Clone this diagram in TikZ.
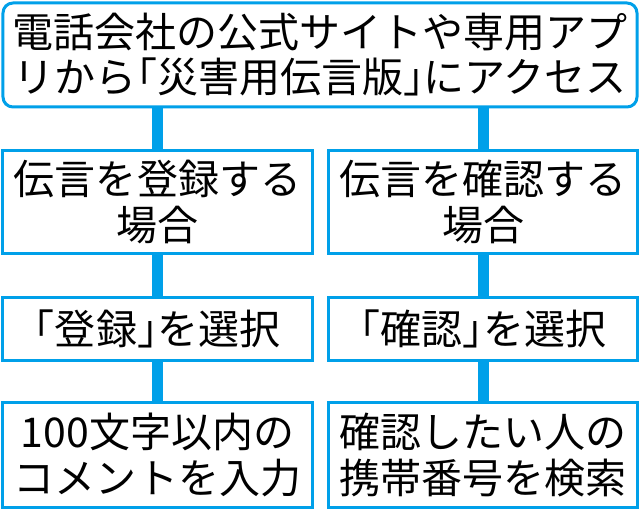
\documentclass[tikz,border=0pt]{standalone}
\usepackage{fontspec}
\setmainfont{Noto Sans CJK JP}
\newcommand\hb[1]{{\addfontfeatures{RawFeature=+halt}#1}}
\definecolor{flowblue}{RGB}{0,160,233}
\tikzset{
  box/.style={draw=flowblue, line width=3bp, fill=white, inner sep=0pt,
    align=center, font=\fontsize{41bp}{46bp}\selectfont, text=black},
  conn/.style={draw=flowblue, line width=11bp},
}
\begin{document}
\begin{tikzpicture}[x=1bp,y=-1bp]
\useasboundingbox (0,0) rectangle (641,511);
% top box
\node[box, rounded corners=10bp, minimum width=634bp, minimum height=104bp] (top) at (320,55)
  {電話会社の公式サイトや専用アプ\\[-1bp]リから\hb{「}災害用伝言版\hb{」}にアクセス};
% left column
\node[box, minimum width=310bp, minimum height=103bp] (l1) at (157.5,202)
  {伝言を登録する\\場合};
\node[box, minimum width=310bp, minimum height=63bp] (l2) at (157.5,329)
  {\hb{「}登録\hb{」}を選択};
\node[box, minimum width=310bp, minimum height=105bp] (l3) at (157.5,455)
  {100文字以内の\\コメントを入力};
% right column
\node[box, minimum width=309bp, minimum height=103bp] (r1) at (483,202)
  {伝言を確認する\\場合};
\node[box, minimum width=309bp, minimum height=63bp] (r2) at (483,329)
  {\hb{「}確認\hb{」}を選択};
\node[box, minimum width=309bp, minimum height=105bp] (r3) at (483,455)
  {確認したい人の\\携帯番号を検索};
% connectors
\draw[conn] (top.south -| l1.north) -- (l1.north);
\draw[conn] (top.south -| r1.north) -- (r1.north);
\draw[conn] (l1.south) -- (l2.north);
\draw[conn] (l2.south) -- (l3.north);
\draw[conn] (r1.south) -- (r2.north);
\draw[conn] (r2.south) -- (r3.north);
\end{tikzpicture}
\end{document}
